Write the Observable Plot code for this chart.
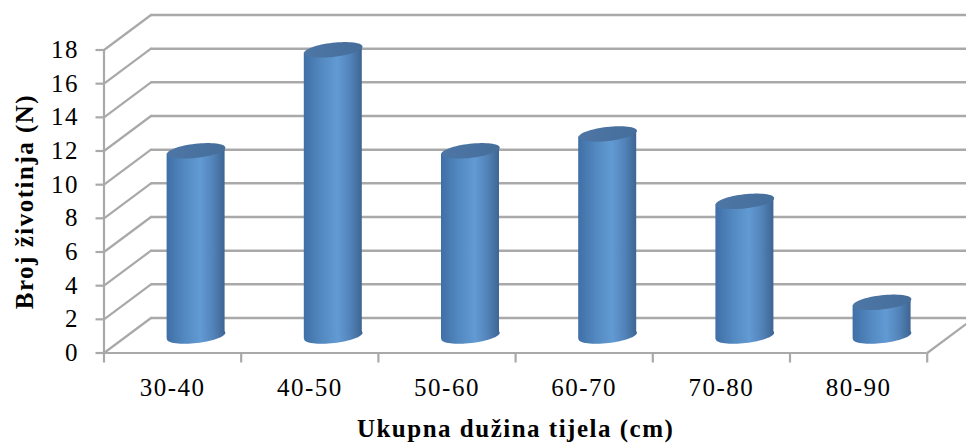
<!DOCTYPE html>
<html>
<head>
<meta charset="utf-8">
<script src="https://cdn.jsdelivr.net/npm/d3@7"></script>
<script src="https://cdn.jsdelivr.net/npm/@observablehq/plot@0.6"></script>
<style>
html,body{margin:0;padding:0;background:#fff;overflow:hidden}
</style>
</head>
<body>
<div id="chart"></div>
<script>
const categories = ["30-40","40-50","50-60","60-70","70-80","80-90"];
const counts = [11,17,11,12,8,2];
const yTicks = [0,2,4,6,8,10,12,14,16,18];
const xTitle = "Ukupna dužina tijela (cm)";
const yTitle = "Broj životinja (N)";

// 3-D projection of the depth axis, in scale units
const depthX = 47/137.2, depthY = 35/16.83;
const midX = depthX/2, midY = 17/16.83;
const halfW = 29/137.2, tilt = 3.2/16.83;
const gray = "#a9a9a9";
const fontFamily = "'Liberation Serif', serif";

const bars = categories.map((c,i)=>({c, x:i+0.5+midX, v:counts[i]}));
const bodies = bars.flatMap(b=>[
  {c:b.c, x:b.x-halfW, y1:midY-tilt, y2:b.v+midY-tilt},
  {c:b.c, x:b.x+halfW, y1:midY+tilt, y2:b.v+midY+tilt}
]);
const ellipse = {draw(ctx,size){
  const a=Math.sqrt(size/Math.PI), b=a*0.24, t=-Math.atan(3.3/29);
  const N=64;
  for(let k=0;k<N;k++){
    const p=2*Math.PI*k/N, ex=a*Math.cos(p), ey=b*Math.sin(p);
    const X=ex*Math.cos(t)-ey*Math.sin(t), Y=ex*Math.sin(t)+ey*Math.cos(t);
    k?ctx.lineTo(X,Y):ctx.moveTo(X,Y);
  }
  ctx.closePath();
}};

function defs(){
  const d=d3.create("svg:defs");
  const add=(id,stops)=>{
    const g=d.append("linearGradient").attr("id",id).attr("x1",0).attr("x2",1).attr("y1",0).attr("y2",0);
    stops.forEach(([o,c])=>g.append("stop").attr("offset",o).attr("stop-color",c));
  };
  add("body",[[0,"#3f6fa6"],[0.3,"#5289c0"],[0.58,"#629ad3"],[0.8,"#5283b9"],[1,"#3e6592"]]);
  add("top",[[0,"#4d76a6"],[1,"#466e9b"]]);
  return d.node();
}

const plot = Plot.plot({
  width:966, height:443,
  marginLeft:103.5, marginRight:39.3, marginTop:49.5, marginBottom:90.5,
  style:{fontFamily, background:"#fff", overflow:"hidden", color:"#000", letterSpacing:"1.5px"},
  x:{type:"linear", domain:[0,6], axis:null},
  y:{domain:[0,18], axis:null},
  marks:[
    defs,
    // back wall grid
    Plot.ruleY(yTicks.map(t=>t+depthY),{x1:depthX, x2:6+depthX, stroke:gray, strokeWidth:2.5}),
    // side wall and floor diagonals
    Plot.link(yTicks,{x1:0, y1:d=>d, x2:depthX, y2:d=>d+depthY, stroke:gray, strokeWidth:2.2, strokeLinecap:"round"}),
    Plot.link([0],{x1:6, y1:0, x2:6+depthX, y2:depthY, stroke:gray, strokeWidth:2.2}),
    // front edges
    Plot.ruleX([0],{y1:0, y2:18, stroke:gray, strokeWidth:2.2}),
    Plot.ruleY([0],{x1:0, x2:6, stroke:gray, strokeWidth:2.2}),
    // axes
    Plot.axisY({ticks:yTicks, anchor:"left", tickSize:8, tickPadding:17, stroke:gray, strokeWidth:2.2, fontSize:25, fill:"#000", label:null, tickFormat:d=>d}),
    Plot.axisX({ticks:d3.range(0,7), anchor:"bottom", tickSize:10, stroke:gray, strokeWidth:2.2, tickFormat:()=>"", label:null}),
    Plot.axisX({ticks:categories.map((_,i)=>i+0.5), anchor:"bottom", tickSize:0, tickPadding:25, fontSize:25, fill:"#000", label:null, tickFormat:d=>categories[Math.floor(d)]}),
    // cylinders
    Plot.dot(bars,{x:"x", y:()=>midY, r:29.4, symbol:ellipse, fill:"url(#body)"}),
    Plot.area(bodies,{x1:"x", y1:"y1", y2:"y2", z:"c", fill:"url(#body)"}),
    Plot.dot(bars,{x:"x", y:d=>d.v+midY, r:29.4, symbol:ellipse, fill:"url(#top)"}),
    // titles
    Plot.text([xTitle],{frameAnchor:"bottom", dy:84, text:d=>d, fontSize:25, fontWeight:"bold", fill:"#000"}),
    Plot.text([yTitle],{frameAnchor:"left", textAnchor:"middle", dx:-79, rotate:-90, text:d=>d, fontSize:25, fontWeight:"bold", fill:"#000"})
  ]
});
document.getElementById("chart").appendChild(plot);
</script>
</body>
</html>
